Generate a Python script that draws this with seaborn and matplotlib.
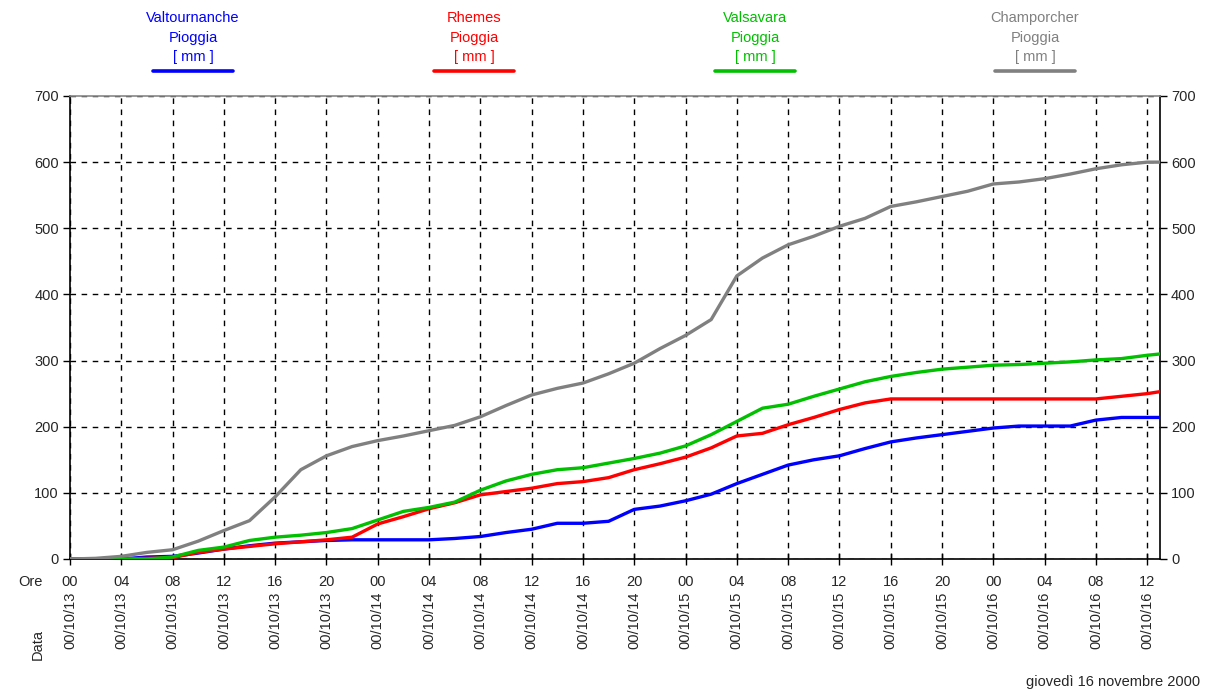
import matplotlib.pyplot as plt
import pandas as pd
import seaborn as sns
from matplotlib.lines import Line2D

# Hours since 00/10/13 00:00
ore = [0, 2, 4, 6, 8, 10, 12, 14, 16, 18, 20, 22, 24, 26, 28, 30, 32, 34, 36, 38, 40, 42,
       44, 46, 48, 50, 52, 54, 56, 58, 60, 62, 64, 66, 68, 70, 72, 74, 76, 78, 80, 82, 84, 85]

valtournanche = [0, 0, 0, 3, 4, 9, 15, 20, 24, 26, 28, 29, 29, 29, 29, 31, 34, 40, 45, 54, 54, 57,
                 75, 80, 88, 98, 114, 128, 142, 150, 156, 167, 177, 183, 188, 193, 198, 201, 201, 201, 210, 214, 214, 214]
rhemes = [0, 0, 0, 1, 2, 10, 15, 19, 23, 26, 29, 33, 53, 64, 76, 85, 97, 102, 107, 114, 117, 123,
          135, 144, 154, 168, 186, 190, 203, 214, 226, 236, 242, 242, 242, 242, 242, 242, 242, 242, 242, 246, 250, 253]
valsavara = [0, 0, 0, 0, 3, 13, 18, 28, 33, 36, 40, 46, 59, 72, 78, 86, 104, 118, 128, 135, 138, 145,
             152, 160, 171, 188, 208, 228, 234, 246, 257, 268, 276, 282, 287, 290, 293, 294, 296, 298, 301, 303, 308, 310]
champorcher = [0, 1, 4, 10, 14, 27, 43, 58, 94, 135, 156, 170, 179, 186, 194, 202, 215, 232, 248, 258, 266, 280,
               296, 318, 338, 362, 428, 455, 475, 488, 503, 515, 533, 540, 548, 556, 567, 570, 575, 582, 590, 596, 600, 600]

stazioni = ['Valtournanche', 'Rhemes', 'Valsavara', 'Champorcher']
colori = ['#0000ff', '#ff0000', '#00c000', '#808080']

tick_ore = list(range(0, 85, 4))
tick_labels = ['%02d' % (h % 24) for h in tick_ore]
tick_date = ['00/10/%d' % (13 + h // 24) for h in tick_ore]

df = pd.concat([
    pd.DataFrame({'ore': ore, 'pioggia': valori, 'stazione': nome})
    for nome, valori in zip(stazioni, [valtournanche, rhemes, valsavara, champorcher])
])

sns.set_theme(style='white')
plt.rcParams['font.family'] = ['Liberation Sans', 'DejaVu Sans']

fig = plt.figure(figsize=(12.13, 6.93), dpi=100)
ax = fig.add_axes([70 / 1213, 1 - 559 / 693, 1090 / 1213, 463 / 693])

sns.lineplot(data=df, x='ore', y='pioggia', hue='stazione', hue_order=stazioni,
             palette=colori, linewidth=2.4, legend=False, ax=ax, zorder=3)

ax.set_xlim(0, 85)
ax.set_ylim(0, 700)
ax.set_xticks(tick_ore)
ax.set_xticklabels(tick_labels, fontsize=10.5)
ax.set_yticks(range(0, 701, 100))
ax.tick_params(axis='y', labelsize=10.5, left=True, right=True, labelright=True,
               direction='out', length=5, width=1, color='black', pad=3)
ax.tick_params(axis='x', bottom=True, direction='inout', length=9, width=1, color='black', pad=7)
ax.set_xlabel('')
ax.set_ylabel('')
ax.grid(True, color='black', linestyle=(0, (4, 4)), linewidth=1.0)
for s in ax.spines.values():
    s.set_color('black')
    s.set_linewidth(1.2)
ax.spines['top'].set_color('#888888')

# date labels under the hour labels
for h, d in zip(tick_ore, tick_date):
    ax.text(h, -0.07, d, transform=ax.get_xaxis_transform(), rotation=90,
            ha='center', va='top', fontsize=10.5)

fig.text(30 / 1213, 1 - 582 / 693, 'Ore', ha='center', va='center', fontsize=10.5)
fig.text(38 / 1213, 1 - 645 / 693, 'Data', ha='center', va='center', rotation=90, fontsize=10.5)
fig.text(1200 / 1213, 1 - 682 / 693, 'giovedì 16 novembre 2000', ha='right', va='center', fontsize=10.5)

# legend on top
centri = [193, 474, 755, 1035]
for nome, col, cx in zip(stazioni, colori, centri):
    fig.text(cx / 1213, 1 - 18 / 693, nome, color=col, ha='center', va='center', fontsize=10.5)
    fig.text(cx / 1213, 1 - 38 / 693, 'Pioggia', color=col, ha='center', va='center', fontsize=10.5)
    fig.text(cx / 1213, 1 - 57 / 693, '[ mm ]', color=col, ha='center', va='center', fontsize=10.5)
    fig.add_artist(Line2D([(cx - 40) / 1213, (cx + 40) / 1213], [1 - 71 / 693, 1 - 71 / 693],
                          color=col, linewidth=2.6, transform=fig.transFigure))

fig.savefig('out.png', dpi=100)
